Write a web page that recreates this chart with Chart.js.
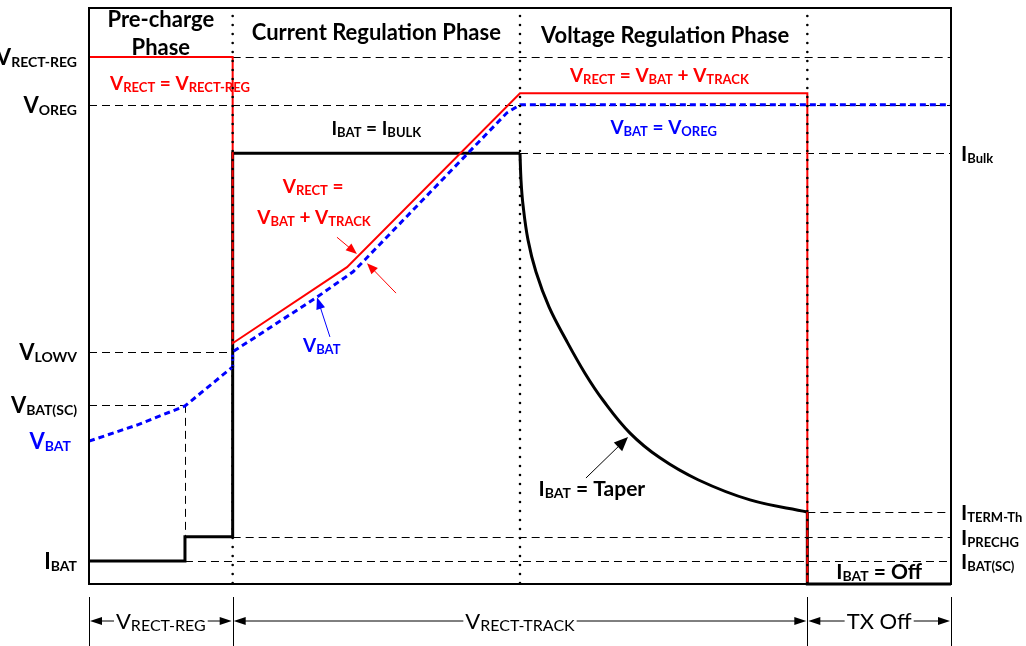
<!DOCTYPE html>
<html>
<head>
<meta charset="utf-8">
<script src="https://cdn.jsdelivr.net/npm/chart.js@4.4.1/dist/chart.umd.min.js"></script>
<style>
  html, body { margin: 0; padding: 0; background: #fff; }
  canvas { display: block; }
</style>
</head>
<body>
<canvas id="chart" width="1026" height="646" style="width:1026px;height:646px"></canvas>
<script>
// time axis runs 0..6, phase boundaries
const phaseBounds = [1, 3, 5];
const timeMax = 6;
const levelMax = 100;

// V_RECT (red)
const vrectX = [0, 1, 1, 1.796, 3, 5, 5];
const vrectY = [91.5, 91.5, 41.8, 55.0, 85.2, 85.2, 0];

// V_BAT (blue, dotted)
const vbatX = [0, 0.334, 0.668, 1, 1, 1.587, 1.838, 1.921, 2.909, 3, 6];
const vbatY = [24.8, 27.6, 30.9, 37.7, 40.3, 49.8, 54.2, 56.3, 81.8, 83.2, 83.2];

// I_BAT pre-charge / bulk steps
const ibatX = [0, 0.668, 0.668, 1, 1, 3];
const ibatY = [4.0, 4.0, 8.2, 8.2, 74.8, 74.8];

// I_BAT taper in voltage regulation
const taperX = [3.0, 3.007, 3.021, 3.056, 3.111, 3.202, 3.320, 3.452, 3.578, 3.766, 3.974, 4.239, 4.601, 5.0];
const taperY = [74.8, 70.1, 65.8, 59.7, 54.2, 48.1, 42.4, 36.6, 31.9, 26.2, 21.9, 18.1, 14.6, 12.5];

// I_BAT off
const offX = [5, 5, 6];
const offY = [12.5, 0, 0];

// dashed guide levels
const guideLevel = [91.5, 83.2, 74.8, 40.3, 31.1, 12.5, 8.2, 4.0];
const guideFrom  = [1, 0, 3, 0, 0, 5, 1, 0.668];
const guideTo    = [6, 6, 6, 1, 0.668, 6, 6, 6];

// axis labels on the left / right
const leftLabels = ['V_{RECT-REG}', 'V_{OREG}', 'V_{LOWV}', 'V_{BAT(SC)}', 'V_{BAT}', 'I_{BAT}'];
const leftLevels = [91.5, 83.2, 40.3, 31.1, 24.8, 4.0];
const rightLabels = ['I_{Bulk}', 'I_{TERM-Th}', 'I_{PRECHG}', 'I_{BAT(SC)}'];
const rightLevels = [74.8, 12.5, 8.2, 4.0];

// phase spans under the chart
const spanFrom = [0, 1, 5];
const spanTo = [1, 5, 6];
const spanLabels = ['V_{RECT-REG}', 'V_{RECT-TRACK}', 'TX Off'];

const RED = '#ff0000';
const BLUE = '#0000ff';
const FONT = 'Lato, "Open Sans", sans-serif';

const pts = (xs, ys) => xs.map((x, i) => ({ x, y: ys[i] }));

function parseRich(s) {
  const out = [];
  const re = /_\{([^}]*)\}/g;
  let last = 0, m;
  while ((m = re.exec(s))) {
    if (m.index > last) out.push([s.slice(last, m.index), false]);
    out.push([m[1], true]);
    last = re.lastIndex;
  }
  if (last < s.length) out.push([s.slice(last), false]);
  return out;
}

function richText(ctx, s, x, y, o) {
  const w = o.bold === false ? '' : 'bold ';
  const f1 = w + o.size + 'px ' + FONT;
  const f2 = w + o.sub + 'px ' + FONT;
  const parts = parseRich(s);
  let total = 0;
  parts.forEach(p => {
    ctx.font = p[1] ? f2 : f1;
    p.push(ctx.measureText(p[0]).width);
    total += p[2];
  });
  let cx = o.align === 'right' ? x - total : o.align === 'center' ? x - total / 2 : x;
  const x0 = cx;
  if (o.bg) {
    ctx.fillStyle = o.bg;
    ctx.fillRect(x0 - 2, y - o.size, total + 4, o.size + 6);
  }
  ctx.fillStyle = o.color || '#000';
  ctx.textAlign = 'left';
  ctx.textBaseline = 'alphabetic';
  parts.forEach(p => {
    ctx.font = p[1] ? f2 : f1;
    ctx.fillText(p[0], cx, y + (p[1] ? (o.drop || 2) : 0));
    cx += p[2];
  });
  return total;
}

function arrow(ctx, x1, y1, x2, y2, color, lw, len, half) {
  const a = Math.atan2(y2 - y1, x2 - x1);
  ctx.save();
  ctx.strokeStyle = color;
  ctx.fillStyle = color;
  ctx.lineWidth = lw;
  ctx.setLineDash([]);
  ctx.beginPath();
  ctx.moveTo(x1, y1);
  ctx.lineTo(x2 - Math.cos(a) * len * 0.8, y2 - Math.sin(a) * len * 0.8);
  ctx.stroke();
  ctx.beginPath();
  ctx.moveTo(x2, y2);
  ctx.lineTo(x2 - Math.cos(a) * len - Math.sin(a) * half, y2 - Math.sin(a) * len + Math.cos(a) * half);
  ctx.lineTo(x2 - Math.cos(a) * len + Math.sin(a) * half, y2 - Math.sin(a) * len - Math.cos(a) * half);
  ctx.closePath();
  ctx.fill();
  ctx.restore();
}

const diagram = {
  id: 'diagram',
  beforeDatasetsDraw(chart) {
    const { ctx, scales: { x, y } } = chart;
    ctx.save();
    ctx.strokeStyle = '#000';
    ctx.lineWidth = 1;
    ctx.setLineDash([8, 5]);
    guideLevel.forEach((lv, i) => {
      const py = Math.round(y.getPixelForValue(lv)) + 0.5;
      ctx.beginPath();
      ctx.moveTo(x.getPixelForValue(guideFrom[i]), py);
      ctx.lineTo(x.getPixelForValue(guideTo[i]), py);
      ctx.stroke();
    });
    // drop line from V_BAT(SC) to I_PRECHG
    const vx = Math.round(x.getPixelForValue(0.668)) + 0.5;
    ctx.beginPath();
    ctx.moveTo(vx, y.getPixelForValue(31.1));
    ctx.lineTo(vx, y.getPixelForValue(8.2));
    ctx.stroke();
    ctx.restore();
  },
  afterDatasetsDraw(chart) {
    const { ctx, chartArea: a, scales: { x, y } } = chart;
    ctx.save();

    // phase separators (dotted)
    ctx.strokeStyle = '#000';
    ctx.lineWidth = 2.6;
    ctx.lineCap = 'round';
    ctx.setLineDash([0, 9]);
    phaseBounds.forEach(b => {
      const px = x.getPixelForValue(b);
      ctx.beginPath();
      ctx.moveTo(px, a.top + 8);
      ctx.lineTo(px, a.bottom);
      ctx.stroke();
    });
    ctx.setLineDash([]);
    ctx.lineCap = 'butt';

    // frame
    ctx.lineWidth = 2;
    ctx.strokeRect(a.left, a.top, a.right - a.left, a.bottom - a.top);

    const X = v => x.getPixelForValue(v);
    const Y = v => y.getPixelForValue(v);

    // phase titles
    const title = { size: 22, sub: 14, color: '#000', align: 'center' };
    richText(ctx, 'Pre-charge', X(0.5), Y(96.7), title);
    richText(ctx, 'Phase', X(0.5), Y(91.9), title);
    richText(ctx, 'Current Regulation Phase', X(2.0), Y(94.4), title);
    richText(ctx, 'Voltage Regulation Phase', X(4.01), Y(93.9), title);

    // left level labels
    leftLabels.forEach((t, i) => {
      const isBat = t === 'V_{BAT}';
      richText(ctx, t, isBat ? a.left - 18 : a.left - 12, Y(leftLevels[i]) + 8,
        { size: 22, sub: 14, drop: 2, align: 'right', color: isBat ? BLUE : '#000' });
    });
    // right level labels
    rightLabels.forEach((t, i) => {
      richText(ctx, t, a.right + 10, Y(rightLevels[i]) + 8, { size: 21, sub: 13, drop: 2, align: 'left' });
    });

    // curve annotations
    const red = { size: 19, sub: 13, drop: 2, align: 'center', color: RED };
    const blue = { size: 19, sub: 13, drop: 2, align: 'center', color: BLUE };
    const blk = { size: 19, sub: 13, drop: 2, align: 'center', color: '#000' };
    richText(ctx, 'V_{RECT} = V_{RECT-REG}', X(0.633), Y(85.8), red);
    richText(ctx, 'I_{BAT} = I_{BULK}', X(2.0), Y(78.0), blk);
    richText(ctx, 'V_{RECT} =', X(1.56), Y(67.9), red);
    richText(ctx, 'V_{BAT} + V_{TRACK}', X(1.566), Y(62.5), red);
    richText(ctx, 'V_{BAT}', X(1.62), Y(40.3), blue);
    richText(ctx, 'V_{RECT} = V_{BAT} + V_{TRACK}', X(3.97), Y(87.2), red);
    richText(ctx, 'V_{BAT} = V_{OREG}', X(4.0), Y(78.1), blue);
    richText(ctx, 'I_{BAT} = Taper', X(3.5), Y(15.3), { size: 21, sub: 14, drop: 2, align: 'center', color: '#000' });
    richText(ctx, 'I_{BAT} = Off', X(5.5), Y(0.9), { size: 21, sub: 14, drop: 2, align: 'center', color: '#000' });

    // pointer arrows
    arrow(ctx, X(1.726), Y(60.2), X(1.865), Y(57.3), RED, 1, 11, 4.5);
    arrow(ctx, X(2.137), Y(50.5), X(1.935), Y(55.7), RED, 1, 11, 4.5);
    arrow(ctx, X(1.677), Y(42.9), X(1.587), Y(49.8), BLUE, 1, 12, 4.5);
    arrow(ctx, X(3.459), Y(18.4), X(3.752), Y(25.5), '#000', 1, 14, 6);

    // spans under the chart
    const top = a.bottom + 13, bot = a.bottom + 62, ly = a.bottom + 37;
    ctx.strokeStyle = '#000';
    ctx.lineWidth = 1;
    [0, 1, 5, 6].forEach(v => {
      const px = Math.round(X(v)) + 0.5;
      ctx.beginPath();
      ctx.moveTo(px, top);
      ctx.lineTo(px, bot);
      ctx.stroke();
    });
    spanFrom.forEach((f, i) => {
      const x1 = X(f) + 1, x2 = X(spanTo[i]) - 1, mid = (x1 + x2) / 2;
      arrow(ctx, mid, ly, x1, ly, '#000', 1, 12, 4);
      arrow(ctx, mid, ly, x2, ly, '#000', 1, 12, 4);
      richText(ctx, spanLabels[i], mid, ly + 8,
        { size: 22, sub: 16, drop: 2, bold: false, align: 'center', color: '#000', bg: '#fff' });
    });

    ctx.restore();
  }
};

new Chart(document.getElementById('chart'), {
  type: 'scatter',
  data: {
    datasets: [
      { label: 'V_BAT', data: pts(vbatX, vbatY), borderColor: BLUE, borderWidth: 3, borderDash: [6, 4] },
      { label: 'V_RECT', data: pts(vrectX, vrectY), borderColor: RED, borderWidth: 2 },
      { label: 'I_BAT', data: pts(ibatX, ibatY), borderColor: '#000', borderWidth: 3 },
      { label: 'I_BAT taper', data: pts(taperX, taperY), borderColor: '#000', borderWidth: 3, tension: 0.4 },
      { label: 'I_BAT off', data: pts(offX, offY), borderColor: '#000', borderWidth: 3 },
    ].map(d => Object.assign({ showLine: true, pointRadius: 0, fill: false, clip: 6, borderJoinStyle: 'miter' }, d))
  },
  options: {
    responsive: false,
    animation: false,
    layout: { padding: { left: 89, right: 75, top: 8, bottom: 62 } },
    plugins: { legend: { display: false }, tooltip: { enabled: false } },
    scales: {
      x: { type: 'linear', min: 0, max: timeMax, display: false },
      y: { type: 'linear', min: 0, max: levelMax, display: false }
    }
  },
  plugins: [diagram]
});
</script>
</body>
</html>
